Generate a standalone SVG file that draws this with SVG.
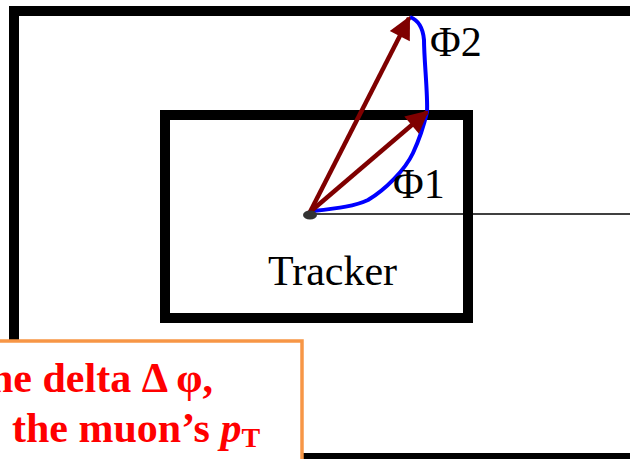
<svg xmlns="http://www.w3.org/2000/svg" width="630" height="459" viewBox="0 0 630 459">
<defs>
<style>
.frame{fill:none;stroke:#000;}
.arrow{stroke:#7f0000;stroke-width:4.5;fill:none;}
.lbl{font-family:"Liberation Serif","Times New Roman",serif;font-size:42px;fill:#000;}
.red{font-family:"Liberation Serif","Times New Roman",serif;font-size:42px;font-weight:bold;fill:#ff0000;}
</style>
<marker id="ah" viewBox="0 0 10 10" refX="9" refY="5" markerWidth="5.5" markerHeight="5" markerUnits="strokeWidth" orient="auto">
<path d="M0,0 L10,5 L0,10 Z" fill="#7f0000"/>
</marker>
</defs>
<rect width="630" height="459" fill="#fff"/>
<g id="outer">
<rect class="frame" x="14" y="11" width="660" height="447" stroke-width="10"/>
</g>
<g id="tracker">
<rect class="frame" x="165" y="115" width="303" height="203" stroke-width="10"/>
<text class="lbl" x="268" y="285">Tracker</text>
</g>
<g id="axis">
<line x1="310" y1="214" x2="630" y2="214" stroke="#000" stroke-width="1.5"/>
</g>
<g id="connectors">
<path d="M313,211 C340,208 355,206 368,200 C385,190 405,170 413,153 C420,138 424,125 427,112 C428,95 424,60 424,40 C423,28 418,20 410,17" stroke="#0000ff" stroke-width="4" fill="none"/>
<line class="arrow" x1="310" y1="212" x2="409" y2="18" marker-end="url(#ah)"/>
<line class="arrow" x1="310" y1="212" x2="427" y2="112" marker-end="url(#ah)"/>
</g>
<g id="vertex">
<ellipse cx="310" cy="215" rx="7" ry="4.5" fill="#333"/>
</g>
<g id="phi2"><text class="lbl" x="430" y="56">Φ2</text></g>
<g id="phi1"><text class="lbl" x="393" y="198">Φ1</text></g>
<g id="note">
<rect x="-10" y="341" width="312" height="130" fill="#fff" stroke="#f79646" stroke-width="3.5"/>
<text class="red" x="-10" y="392">ne delta Δ φ,</text>
<text class="red" x="12" y="442">the muon’s <tspan font-style="italic">p</tspan><tspan font-size="28" dy="5">T</tspan></text>
</g>
</svg>
